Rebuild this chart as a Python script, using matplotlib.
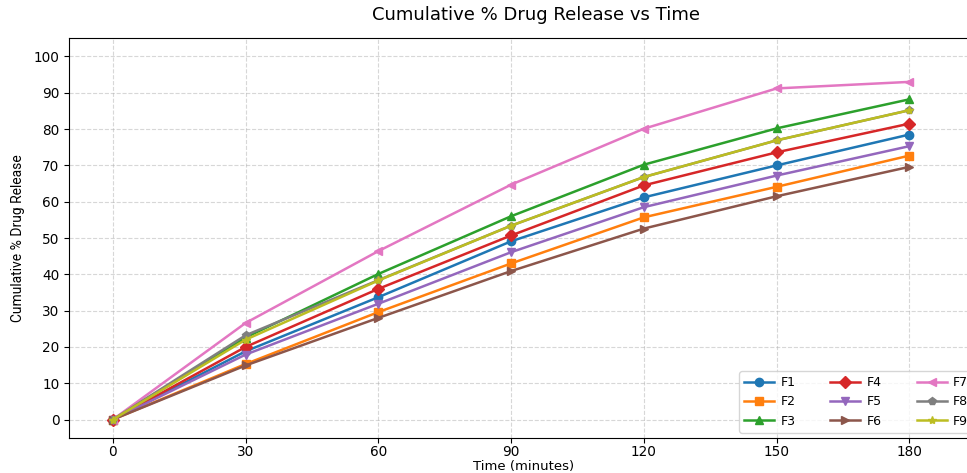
import matplotlib.pyplot as plt

plt.rcParams['font.family'] = ['DejaVu Sans']

time = [0, 30, 60, 90, 120, 150, 180]
names = ['F1', 'F2', 'F3', 'F4', 'F5', 'F6', 'F7', 'F8', 'F9']
f1 = [0, 18.8, 33.7, 49.1, 61.2, 70.0, 78.5]
f2 = [0, 15.3, 29.6, 43.0, 55.7, 64.1, 72.7]
f3 = [0, 22.6, 40.1, 56.0, 70.2, 80.2, 88.2]
f4 = [0, 20.0, 36.0, 50.7, 64.5, 73.6, 81.5]
f5 = [0, 17.9, 31.9, 46.1, 58.5, 67.2, 75.3]
f6 = [0, 14.9, 28.0, 40.9, 52.6, 61.5, 69.6]
f7 = [0, 26.6, 46.4, 64.7, 80.1, 91.2, 93.0]
f8 = [0, 23.2, 38.4, 53.4, 66.8, 76.9, 85.2]
f9 = [0, 22.0, 38.3, 53.4, 66.8, 76.9, 85.2]
release = [f1, f2, f3, f4, f5, f6, f7, f8, f9]
markers = ['o', 's', '^', 'D', 'v', '>', '<', 'p', '*']

fig = plt.figure(figsize=(9.67, 4.73), dpi=100)
ax = fig.add_axes([0.0714, 0.0746, 0.94, 0.8444])

for name, vals, m in zip(names, release, markers):
    ax.plot(time, vals, marker=m, markersize=6, linewidth=1.8, label=name)

ax.set_xlim(-9.9, 195.5)
ax.set_ylim(-5, 105)
ax.set_xticks(time)
ax.set_yticks(range(0, 101, 10))
ax.tick_params(labelsize=9.8)
ax.tick_params(axis='x', pad=2)
ax.grid(True, linestyle='--', alpha=0.5)

ax.set_xlabel('Time (minutes)', fontsize=9.5, labelpad=0.5)
ax.set_ylabel('Cumulative % Drug Release', fontsize=10, family=['Roboto', 'DejaVu Sans'], labelpad=6)
ax.set_title('Cumulative % Drug Release vs Time', fontsize=13, x=0.514, pad=13)
ax.legend(ncol=3, loc='lower right', fontsize=9, handlelength=2.4,
          handletextpad=0.5, columnspacing=2.8, borderaxespad=0.4)

plt.savefig('out.png', dpi=100)
